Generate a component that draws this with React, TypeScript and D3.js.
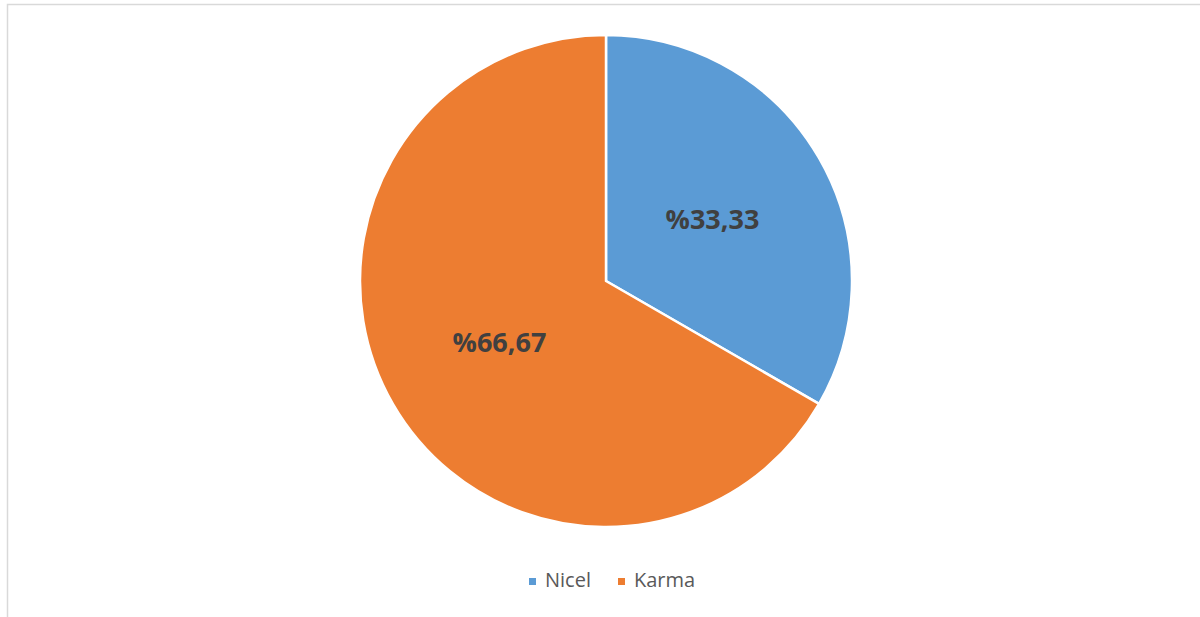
import React from "react";
import * as d3 from "d3";

const categories = ["Nicel", "Karma"];
const values = [33.33, 66.67];
const labels = ["%33,33", "%66,67"];
const colors = ["#5B9BD5", "#ED7D31"];

export default function App() {
  const W = 1200, H = 617;
  const cx = 606, cy = 281, r = 246;
  const pie = d3.pie<number>().sort(null).startAngle(0).endAngle(2 * Math.PI)(values);
  const arc = d3.arc<d3.PieArcDatum<number>>().innerRadius(0).outerRadius(r);
  const labelArc = d3.arc<d3.PieArcDatum<number>>().innerRadius(r * 0.5).outerRadius(r * 0.5);
  const legendX = d3.scalePoint<string>().domain(categories).range([529, 618]);
  return (
    <svg width={W} height={H} style={{ position: "absolute", left: 0, top: 0, background: "#fff" }}
      fontFamily="'Open Sans', sans-serif">
      <rect x={7.5} y={4.5} width={W + 20} height={H + 20} fill="#fff" stroke="#d9d9d9" strokeWidth={1.5} />
      <g transform={`translate(${cx},${cy})`}>
        {pie.map((d, i) => (
          <path key={i} d={arc(d) || ""} fill={colors[i]} stroke="#fff" strokeWidth={2.5} strokeLinejoin="round" />
        ))}
        {pie.map((d, i) => {
          const [x, y] = labelArc.centroid(d);
          return (
            <text key={i} x={x} y={y} dy="0.36em" textAnchor="middle" fontSize={27} fontWeight={700} fill="#404040">
              {labels[i]}
            </text>
          );
        })}
      </g>
      <g>
        {categories.map((c, i) => (
          <g key={c} transform={`translate(${legendX(c)},0)`}>
            <rect x={0} y={578} width={7} height={7} fill={colors[i]} />
            <text x={16} y={587} fontSize={20} fill="#595959">{c}</text>
          </g>
        ))}
      </g>
    </svg>
  );
}
